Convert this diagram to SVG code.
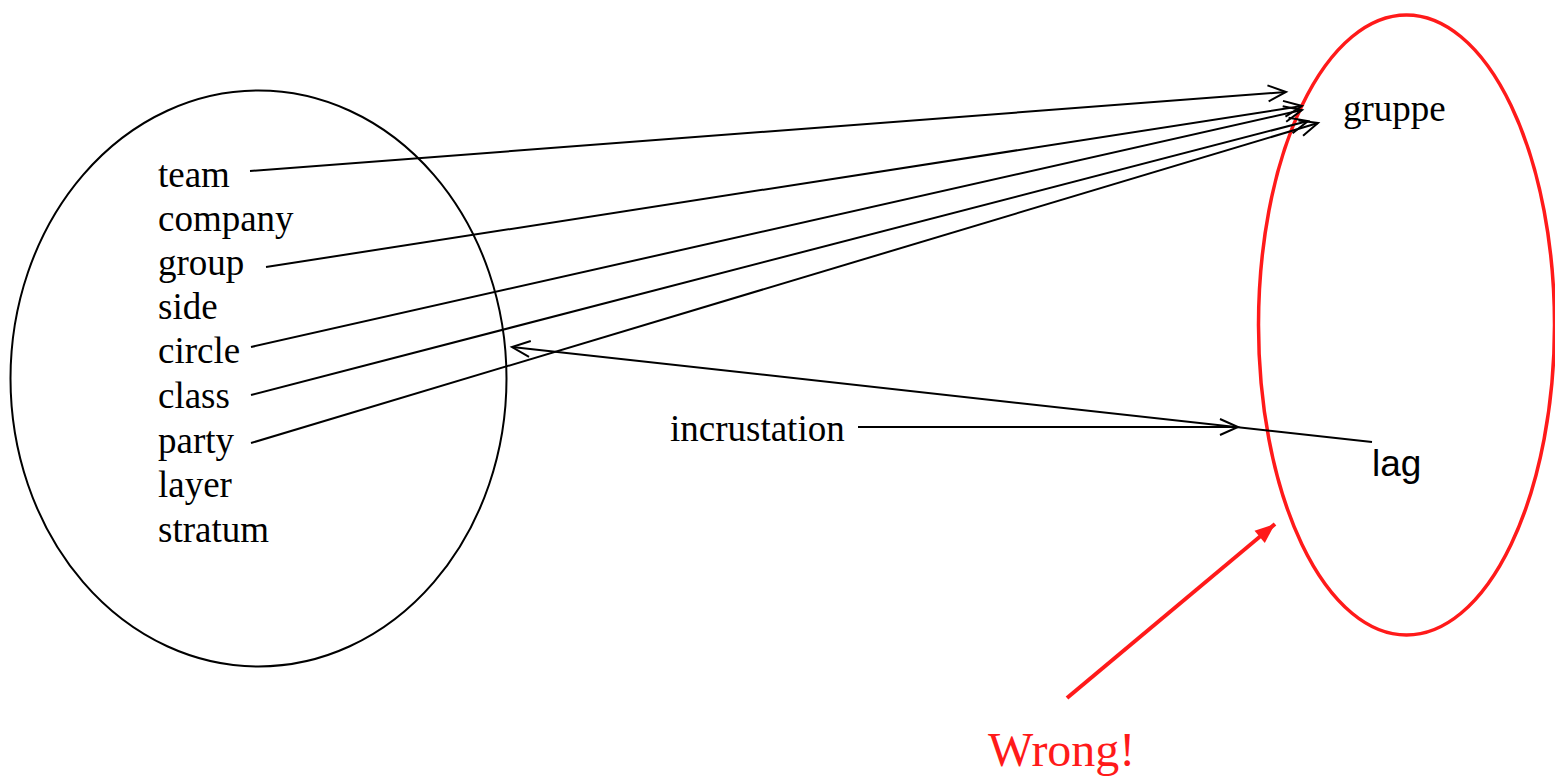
<svg xmlns="http://www.w3.org/2000/svg" width="1555" height="776" viewBox="0 0 1555 776">
<style>
.t{font-family:"Liberation Serif","Times New Roman",serif;font-size:37px;fill:#000}
.s{font-family:"Liberation Sans",Arial,sans-serif;font-size:37px;fill:#000}
.c{stroke:#000;stroke-width:2;fill:none}
</style>
<defs>
<marker id="open" viewBox="-22 -11 24 22" refX="0" refY="0" markerUnits="userSpaceOnUse" markerWidth="24" markerHeight="22" orient="auto" overflow="visible">
<path d="M-18,-8 L0,0 L-18,8" fill="none" stroke="#000" stroke-width="2"/>
</marker>
<marker id="red" viewBox="-20 -10 22 20" refX="0" refY="0" markerUnits="userSpaceOnUse" markerWidth="22" markerHeight="20" orient="auto" overflow="visible">
<path d="M0,0 L-20,-8 L-20,8 Z" fill="#ff1a1a"/>
</marker>
</defs>
<rect width="1555" height="776" fill="#fff"/>
<g id="english">
<ellipse cx="258.5" cy="378.5" rx="248" ry="288" fill="none" stroke="#000" stroke-width="2"/>
<text class="t" x="158" y="187">team</text>
<text class="t" x="158" y="231">company</text>
<text class="t" x="158" y="275">group</text>
<text class="t" x="158" y="319">side</text>
<text class="t" x="158" y="363">circle</text>
<text class="t" x="158" y="408">class</text>
<text class="t" x="158" y="453">party</text>
<text class="t" x="158" y="497">layer</text>
<text class="t" x="158" y="542">stratum</text>
</g>
<g id="danish">
<ellipse cx="1406.5" cy="325" rx="148" ry="310" fill="none" stroke="#ff1a1a" stroke-width="3.5"/>
<text class="t" x="1343" y="121">gruppe</text>
<text class="s" x="1372" y="476">lag</text>
</g>
<g id="incrustation">
<text class="t" x="670" y="441">incrustation</text>
</g>
<g id="wrong">
<text x="988" y="766" font-family="Liberation Serif, Times New Roman, serif" font-size="48" fill="#ff1a1a">Wrong!</text>
</g>
<g id="connectors">
<line class="c" x1="250" y1="171" x2="1286" y2="92" marker-end="url(#open)"/>
<line class="c" x1="266" y1="267" x2="1302" y2="106" marker-end="url(#open)"/>
<line class="c" x1="251" y1="347" x2="1302" y2="110" marker-end="url(#open)"/>
<line class="c" x1="251" y1="395" x2="1308" y2="121" marker-end="url(#open)"/>
<line class="c" x1="251" y1="443" x2="1318" y2="123" marker-end="url(#open)"/>
<line class="c" x1="1372" y1="442" x2="512" y2="347" marker-end="url(#open)"/>
<line class="c" x1="858" y1="427" x2="1238" y2="427" marker-end="url(#open)"/>
<line x1="1067" y1="698" x2="1275" y2="524" stroke="#ff1a1a" stroke-width="4" marker-end="url(#red)"/>
</g>
</svg>
